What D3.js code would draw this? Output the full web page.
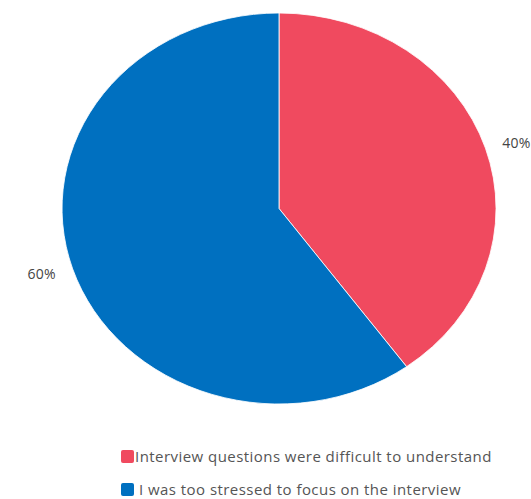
<!DOCTYPE html>
<html>
<head>
<meta charset="utf-8">
<script src="https://cdn.jsdelivr.net/npm/d3@7"></script>
<style>
  body { margin: 0; background: #fff; }
  svg { display: block; font-family: "Open Sans", sans-serif; }
</style>
</head>
<body>
<div id="chart"></div>
<script>
const categories = ["Interview questions were difficult to understand", "I was too stressed to focus on the interview"];
const values = [40, 60];
const labels = ["40%", "60%"];
const colors = ["#F04A5F", "#0070C0"];

const width = 531, height = 499;
const cx = 279, cy = 208.5, rx = 217, ry = 195.5;

const svg = d3.select("#chart").append("svg")
  .attr("width", width)
  .attr("height", height);

const pie = d3.pie().sort(null).value(d => d);
const arcs = pie(values);

// draw as unit circle arcs scaled to an ellipse
const arc = d3.arc().innerRadius(0).outerRadius(1);

const g = svg.append("g")
  .attr("transform", `translate(${cx},${cy}) scale(${rx},${ry})`);

g.selectAll("path")
  .data(arcs)
  .join("path")
  .attr("d", arc)
  .attr("fill", (d, i) => colors[i])
  .attr("stroke", "#fff")
  .attr("stroke-width", 0.004);

// percentage labels outside the slices
const labelArc = d3.arc().innerRadius(1).outerRadius(1);
svg.append("g")
  .selectAll("text")
  .data(arcs)
  .join("text")
  .attr("x", d => cx + labelArc.centroid(d)[0] * rx * 1.15)
  .attr("y", d => cy + labelArc.centroid(d)[1] * ry * 1.085)
  .attr("text-anchor", "middle")
  .attr("dy", "0.35em")
  .attr("font-size", 14)
  .attr("letter-spacing", 0.2)
  .attr("fill", "#444")
  .text((d, i) => labels[i]);

// legend
const legend = svg.append("g")
  .selectAll("g")
  .data(categories)
  .join("g")
  .attr("transform", (d, i) => `translate(121, ${450 + i * 33})`);

legend.append("rect")
  .attr("width", 13)
  .attr("height", 13)
  .attr("rx", 2)
  .attr("fill", (d, i) => colors[i]);

legend.append("text")
  .attr("x", (d, i) => i === 0 ? 14 : 18)
  .attr("y", 12)
  .attr("font-size", 15)
  .attr("letter-spacing", 0.45)
  .attr("fill", "#555")
  .text(d => d);
</script>
</body>
</html>
